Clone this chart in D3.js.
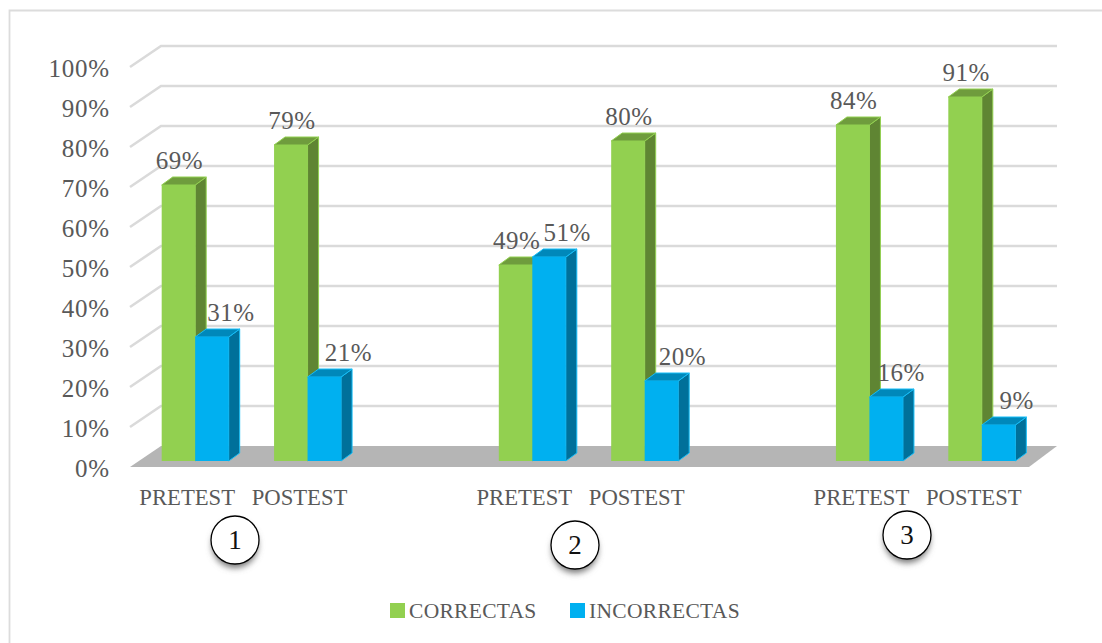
<!DOCTYPE html>
<html>
<head>
<meta charset="utf-8">
<script src="https://cdn.jsdelivr.net/npm/d3@7"></script>
<style>
  html, body { margin: 0; padding: 0; background: #fff; }
  svg { display: block; }
  text { font-family: "Liberation Serif", serif; fill: #595959; }
</style>
</head>
<body>
<div id="chart"></div>
<script>
// Datos del grafico
const slots = ['a1', 'a2', 'gap1', 'b1', 'b2', 'gap2', 'c1', 'c2'];
const slotLabels = ['PRETEST', 'POSTEST', '', 'PRETEST', 'POSTEST', '', 'PRETEST', 'POSTEST'];
const seriesNames = ['CORRECTAS', 'INCORRECTAS'];
const correctas = [69, 79, null, 49, 80, null, 84, 91];
const incorrectas = [31, 21, null, 51, 20, null, 16, 9];
const yTicks = [0, 10, 20, 30, 40, 50, 60, 70, 80, 90, 100];
const groupMarks = ['1', '2', '3'];

const width = 1102, height = 643;

// Caja 3D: plano frontal y desplazamiento hacia el fondo
const plot = { left: 130, right: 1029, bottom: 467, top: 67 };
const wall = { dx: 31, dy: -21 };
const barShift = { dx: 9, dy: -6 };
const depth = { dx: 11, dy: -8 };

const colors = {
  CORRECTAS: { front: '#92d050', top: '#6f9c3d', side: '#5f8533', edge: '#92d050' },
  INCORRECTAS: { front: '#00b0f0', top: '#0088ba', side: '#00709a', edge: '#14bdf7' }
};

const x = d3.scaleBand().domain(slots).range([plot.left, plot.right]);
const y = d3.scaleLinear().domain([0, 100]).range([plot.bottom, plot.top]);
const xSeries = d3.scaleBand().domain(seriesNames).range([x.bandwidth() / 2 - 33.5, x.bandwidth() / 2 + 33.5]);

const svg = d3.select('#chart').append('svg')
  .attr('width', width)
  .attr('height', height)
  .attr('viewBox', [0, 0, width, height]);

// Marco (solo arriba e izquierda se ven en la imagen)
svg.append('path')
  .attr('d', `M9.5,${height}V10.5H${width}`)
  .attr('fill', 'none')
  .attr('stroke', '#dcdcdc')
  .attr('stroke-width', 1.8);

// Rejilla: linea lateral + linea de fondo
svg.append('g').selectAll('path')
  .data(yTicks.slice(1))
  .join('path')
  .attr('d', d => `M${plot.left},${y(d)}l${wall.dx},${wall.dy}H${plot.right + wall.dx - 3}`)
  .attr('fill', 'none')
  .attr('stroke', '#dadada')
  .attr('stroke-width', 2.6);

// Suelo
svg.append('path')
  .attr('d', `M${plot.left},${y(0)}l${wall.dx},${wall.dy}H${plot.right + wall.dx - 3}L${plot.right},${y(0)}Z`)
  .attr('fill', '#b5b5b5');

// Eje Y
const yAxis = svg.append('g')
  .attr('transform', `translate(${plot.left - 7},1)`)
  .call(d3.axisLeft(y).tickValues(yTicks).tickSize(0).tickPadding(13).tickFormat(d => d + '%'));
yAxis.select('.domain').remove();
yAxis.selectAll('text')
  .style('font-size', '25px')
  .style('font-family', '"Liberation Serif", serif')
  .style('letter-spacing', '0.8px')
  .attr('fill', '#595959');

// Barras
const bar = (name, values) => slots.map((s, i) => ({ name, slot: s, value: values[i], i })).filter(d => d.value !== null);
const bars = seriesNames.flatMap((n, k) => bar(n, k === 0 ? correctas : incorrectas))
  .sort((a, b) => a.i - b.i || seriesNames.indexOf(a.name) - seriesNames.indexOf(b.name));

const barG = svg.append('g').selectAll('g')
  .data(bars)
  .join('g')
  .attr('transform', d => `translate(${x(d.slot) + xSeries(d.name) + barShift.dx},${barShift.dy})`);

const bw = xSeries.bandwidth();
// cara lateral
barG.append('path')
  .attr('d', d => `M${bw},${y(d.value)}l${depth.dx},${depth.dy}V${y(0) + depth.dy}l${-depth.dx},${-depth.dy}Z`)
  .attr('fill', d => colors[d.name].side)
  .attr('stroke', d => colors[d.name].edge)
  .attr('stroke-width', 1);
// cara superior
barG.append('path')
  .attr('d', d => `M0,${y(d.value)}l${depth.dx},${depth.dy}H${bw + depth.dx}l${-depth.dx},${-depth.dy}Z`)
  .attr('fill', d => colors[d.name].top)
  .attr('stroke', d => colors[d.name].edge)
  .attr('stroke-width', 1);
// cara frontal
barG.append('rect')
  .attr('x', 0)
  .attr('y', d => y(d.value))
  .attr('width', bw)
  .attr('height', d => y(0) - y(d.value))
  .attr('fill', d => colors[d.name].front);

// Etiquetas de valor, las azules van corridas a la derecha
const labelNudge = { a1: 19, a2: 24, b1: 18, b2: 21, c1: 15, c2: 18 };
svg.append('g').selectAll('text')
  .data(bars)
  .join('text')
  .attr('x', d => x(d.slot) + xSeries(d.name) + barShift.dx + bw / 2 + (d.name === 'INCORRECTAS' ? labelNudge[d.slot] : 1))
  .attr('y', d => y(d.value) + barShift.dy - 16)
  .attr('text-anchor', 'middle')
  .style('font-size', '25px')
  .style('letter-spacing', '0.5px')
  .text(d => d.value + '%');

// Etiquetas de categoria
svg.append('g').selectAll('text')
  .data(slots.filter((s, i) => slotLabels[i]))
  .join('text')
  .attr('x', d => x(d) + x.bandwidth() / 2 + 1)
  .attr('y', 505)
  .attr('text-anchor', 'middle')
  .style('font-size', '22.7px')
  .text(d => slotLabels[slots.indexOf(d)]);

// Circulos numerados
const blur = svg.append('defs').append('filter')
  .attr('id', 'sombra')
  .attr('x', '-40%').attr('y', '-40%').attr('width', '180%').attr('height', '200%');
blur.append('feGaussianBlur').attr('stdDeviation', 3);

const markX = d3.scaleOrdinal().domain(groupMarks).range([235, 575, 907]);
const markY = d3.scaleOrdinal().domain(groupMarks).range([540, 545, 535]);
const marks = svg.append('g').selectAll('g')
  .data(groupMarks)
  .join('g')
  .attr('transform', d => `translate(${markX(d)},${markY(d)})`);
marks.append('circle').attr('r', 23).attr('cy', 5).attr('fill', '#777').attr('filter', 'url(#sombra)');
marks.append('circle').attr('r', 24).attr('fill', '#fff').attr('stroke', '#000').attr('stroke-width', 1.3);
marks.append('text')
  .attr('text-anchor', 'middle')
  .attr('dy', '0.35em')
  .style('font-size', '27px')
  .style('fill', '#111')
  .text(d => d);

// Leyenda
const legendX = d3.scaleOrdinal().domain(seriesNames).range([390, 570]);
const legend = svg.append('g').selectAll('g')
  .data(seriesNames)
  .join('g')
  .attr('transform', d => `translate(${legendX(d)},603)`);
legend.append('rect')
  .attr('width', 15)
  .attr('height', 15)
  .attr('fill', d => colors[d].front);
legend.append('text')
  .attr('x', 19)
  .attr('y', 15)
  .style('font-size', '21.5px')
  .style('letter-spacing', '0.3px')
  .text(d => d);
</script>
</body>
</html>
